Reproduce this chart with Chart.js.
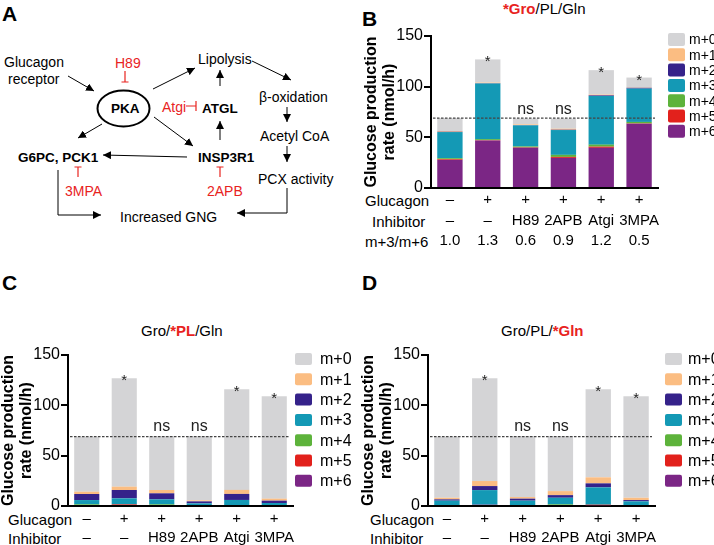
<!DOCTYPE html>
<html>
<head>
<meta charset="utf-8">
<script src="https://cdn.jsdelivr.net/npm/chart.js@4.4.1/dist/chart.umd.min.js"></script>
<style>
  body { margin: 0; width: 714px; height: 545px; position: relative; background: #fff; overflow: hidden;
         font-family: "Liberation Sans", Arial, sans-serif; color: #000; }
  .abs { position: absolute; white-space: nowrap; line-height: 1; }
  .letter { font-weight: bold; font-size: 21px; }
  .ptitle { font-size: 15px; }
  .red { color: #e8231e; font-weight: bold; }
  .rowhead { font-size: 15px; }
  canvas { position: absolute; }
  svg { position: absolute; left: 0; top: 0; }
</style>
</head>
<body>

<!-- panel letters -->
<div class="abs letter" style="left:2px;top:3px">A</div>
<div class="abs letter" style="left:362px;top:8px">B</div>
<div class="abs letter" style="left:2px;top:272px">C</div>
<div class="abs letter" style="left:362px;top:272px">D</div>

<!-- panel titles -->
<div class="abs ptitle" style="left:503px;top:1px"><span class="red">*Gro</span>/PL/Gln</div>
<div class="abs ptitle" style="left:141px;top:323px">Gro/<span class="red">*PL</span>/Gln</div>
<div class="abs ptitle" style="left:501px;top:323px">Gro/PL/<span class="red">*Gln</span></div>

<!-- row headers under the bars -->
<div class="abs rowhead" style="left:365px;top:193px">Glucagon</div>
<div class="abs rowhead" style="left:372px;top:214px">Inhibitor</div>
<div class="abs rowhead" style="left:365px;top:234px">m+3/m+6</div>
<div class="abs rowhead" style="left:8px;top:512px">Glucagon</div>
<div class="abs rowhead" style="left:8px;top:531px">Inhibitor</div>
<div class="abs rowhead" style="left:370px;top:512px">Glucagon</div>
<div class="abs rowhead" style="left:370px;top:531px">Inhibitor</div>

<!-- panel A: pathway sketch -->
<svg width="360" height="260" font-family="Liberation Sans, Arial, sans-serif" font-size="14">
  <defs>
    <marker id="ah" viewBox="0 0 10 10" refX="10" refY="5" markerWidth="8" markerHeight="8"
            markerUnits="userSpaceOnUse" orient="auto">
      <path d="M0,0 L10,5 L0,10 z" fill="#000"/>
    </marker>
  </defs>
  <g stroke="#000" stroke-width="1" fill="none">
    <line x1="68" y1="76" x2="94" y2="91" marker-end="url(#ah)"/>
    <line x1="153" y1="89" x2="195" y2="68" marker-end="url(#ah)"/>
    <line x1="252" y1="61" x2="291" y2="80" marker-end="url(#ah)"/>
    <line x1="287" y1="107" x2="287" y2="122" marker-end="url(#ah)"/>
    <line x1="287" y1="146" x2="287" y2="162" marker-end="url(#ah)"/>
    <polyline points="287,188 287,213 237,213" marker-end="url(#ah)"/>
    <polyline points="58,170 58,215 101,215" marker-end="url(#ah)"/>
    <line x1="187" y1="157" x2="103" y2="155" marker-end="url(#ah)"/>
    <line x1="102" y1="124" x2="78" y2="138" marker-end="url(#ah)"/>
    <line x1="154" y1="117" x2="193" y2="146" marker-end="url(#ah)"/>
    <line x1="220" y1="140" x2="220" y2="121" marker-end="url(#ah)"/>
    <line x1="220" y1="86" x2="220" y2="70" marker-end="url(#ah)"/>
  </g>
  <ellipse cx="123.5" cy="108.5" rx="26" ry="18" fill="none" stroke="#000" stroke-width="2"/>
  <g stroke="#e8231e" stroke-width="1.2" fill="none">
    <path d="M125,71 V82 M121.5,82 H128.5"/>
    <path d="M78,177 V167 M74.5,167 H81.5"/>
    <path d="M220,177 V167 M216.5,167 H223.5"/>
    <path d="M186,106 H196 M196,101 V111"/>
  </g>
  <g fill="#000">
    <text x="4" y="67">Glucagon</text>
    <text x="8" y="84">receptor</text>
    <text x="111" y="113" font-weight="bold" font-size="13.5">PKA</text>
    <text x="198" y="64">Lipolysis</text>
    <text x="259" y="102">β-oxidation</text>
    <text x="260" y="141">Acetyl CoA</text>
    <text x="258" y="184">PCX activity</text>
    <text x="120" y="222">Increased GNG</text>
    <text x="18" y="162" font-weight="bold" font-size="13.5">G6PC, PCK1</text>
    <text x="198" y="162" font-weight="bold" font-size="13.5">INSP3R1</text>
    <text x="202" y="113" font-weight="bold" font-size="13.5">ATGL</text>
  </g>
  <g fill="#e8231e">
    <text x="115" y="68">H89</text>
    <text x="65" y="196">3MPA</text>
    <text x="207" y="196">2APB</text>
    <text x="162" y="112">Atgi</text>
  </g>
</svg>

<canvas id="chartB" width="354" height="260" style="left:360px;top:0px"></canvas>
<canvas id="chartC" width="356" height="255" style="left:0px;top:290px"></canvas>
<canvas id="chartD" width="354" height="255" style="left:360px;top:290px"></canvas>

<script>
// ---- data ----
const isoLabels = ["m+0", "m+1", "m+2", "m+3", "m+4", "m+5", "m+6"];
const isoColors = ["#d4d4d6", "#fbbd82", "#35228a", "#1499b5", "#5db33b", "#e2211c", "#7b2685"];

const glucagonRow = ["–", "+", "+", "+", "+", "+"];
const inhibitorRow = ["–", "–", "H89", "2APB", "Atgi", "3MPA"];
const ratioRow = ["1.0", "1.3", "0.6", "0.9", "1.2", "0.5"];   // m+3/m+6, panel B only
const signifMarks = ["", "*", "ns", "ns", "*", "*"];
const controlRate = 69;   // dashed reference line (nmol/h)
const yTicks = [0, 50, 100, 150];

// rows: m+0 .. m+6, columns: the six conditions
const groTracer = [
  [12.8, 22.9, 5.7, 10.0, 24.1, 9.8],
  [0.7, 0.6, 0.7, 1.0, 0.8, 0.3],
  [0.3, 0.3, 0.3, 0.3, 0.6, 0.8],
  [25.8, 54.9, 20.8, 24.5, 48.0, 32.9],
  [1.0, 0.9, 1.0, 2.0, 2.0, 1.5],
  [0.7, 0.4, 0.4, 1.0, 1.2, 0.3],
  [27.7, 46.9, 39.6, 29.7, 39.6, 63.4]
];
const plTracer = [
  [54.8, 107.8, 53.6, 63.9, 100.0, 101.7],
  [2.3, 3.3, 3.3, 1.0, 4.0, 2.0],
  [6.0, 8.3, 6.0, 2.0, 6.0, 2.3],
  [4.3, 6.0, 5.0, 2.6, 6.0, 3.0],
  [1.6, 0, 1.6, 0, 0, 0],
  [0, 1.6, 0, 0, 0, 0],
  [0, 0, 0, 0, 0, 0]
];
const glnTracer = [
  [60.8, 102.2, 60.6, 54.7, 87.5, 100.8],
  [1.6, 5.0, 1.6, 4.0, 6.0, 2.3],
  [1.3, 4.0, 2.0, 2.6, 4.0, 1.3],
  [5.3, 14.5, 5.3, 6.6, 17.2, 4.6],
  [0, 0, 0, 1.6, 0, 0],
  [0, 0, 0, 0, 0.5, 0],
  [0, 1.3, 0, 0, 0.8, 0]
];

const FONT = "'Liberation Sans', Arial, sans-serif";
Chart.defaults.font.family = FONT;
Chart.defaults.color = "#000";

// dashed line at the control rate
const refLine = {
  id: "refLine",
  afterDatasetsDraw(chart) {
    const { ctx, chartArea, scales } = chart;
    const y = scales.y.getPixelForValue(controlRate);
    ctx.save();
    ctx.strokeStyle = "#444";
    ctx.lineWidth = 1.3;
    ctx.setLineDash([2.5, 1.5]);
    ctx.beginPath();
    ctx.moveTo(chartArea.left + 2, y);
    ctx.lineTo(chartArea.right - 3, y);
    ctx.stroke();
    ctx.restore();
  }
};

// "*" / "ns" above each stack
const sigMarks = {
  id: "sigMarks",
  afterDatasetsDraw(chart) {
    const { ctx, scales } = chart;
    const n = chart.data.labels.length;
    ctx.save();
    ctx.fillStyle = "#222";
    ctx.textAlign = "center";
    ctx.textBaseline = "alphabetic";
    for (let i = 0; i < n; i++) {
      const mark = signifMarks[i];
      if (!mark) continue;
      const total = chart.data.datasets.reduce((a, d) => a + d.data[i], 0);
      const x = scales.x.getPixelForValue(i);
      const y = scales.y.getPixelForValue(total);
      if (mark === "*") {
        ctx.font = "15px " + FONT;
        ctx.fillText(mark, x, y + 7);
      } else {
        ctx.font = "16px " + FONT;
        ctx.fillText(mark, x, y - 5);
      }
    }
    ctx.restore();
  }
};

// legend column, drawn beside the plot
const isoLegend = {
  id: "isoLegend",
  afterDraw(chart, args, opts) {
    const { ctx, chartArea } = chart;
    const items = chart.data.datasets.slice().reverse();
    ctx.save();
    ctx.font = opts.fontSize + "px " + FONT;
    ctx.textBaseline = "middle";
    items.forEach((ds, i) => {
      const x = chartArea.right + opts.offsetX;
      const y = opts.top + i * opts.step;
      ctx.fillStyle = ds.backgroundColor;
      ctx.beginPath();
      ctx.roundRect(x, y, opts.boxW, opts.boxH, 2);
      ctx.fill();
      ctx.fillStyle = "#000";
      ctx.fillText(ds.label, x + opts.boxW + opts.gap, y + opts.boxH / 2 + 1);
    });
    ctx.restore();
  }
};

function makePanel(id, tracer, cfg) {
  const labels = glucagonRow.map((g, i) =>
    cfg.withRatio ? [g, inhibitorRow[i], ratioRow[i]] : [g, inhibitorRow[i]]);
  // m+6 is stacked at the bottom, so datasets go m+6 .. m+0
  const datasets = isoLabels.map((lab, k) => ({
    label: lab,
    data: tracer[k],
    backgroundColor: isoColors[k],
    borderWidth: 0,
    barPercentage: 0.67,
    categoryPercentage: 1.0
  })).reverse();

  return new Chart(document.getElementById(id), {
    type: "bar",
    data: { labels, datasets },
    options: {
      responsive: false,
      animation: false,
      layout: { padding: { top: cfg.top, right: cfg.right, left: 0, bottom: 0 } },
      plugins: {
        legend: { display: false },
        tooltip: { enabled: false },
        isoLegend: cfg.legend
      },
      scales: {
        x: {
          stacked: true,
          grid: { display: false, drawTicks: false },
          border: { color: "#000", width: 2 },
          ticks: {
            autoSkip: false, maxRotation: 0, padding: cfg.tickPad,
            font: { size: 15, lineHeight: cfg.lineH }
          },
          afterFit: s => { s.height = cfg.xHeight; }
        },
        y: {
          stacked: true,
          min: 0, max: 150,
          afterBuildTicks: s => { s.ticks = yTicks.map(v => ({ value: v })); },
          grid: { display: true, drawOnChartArea: false, drawTicks: true, tickLength: 7, color: "#000", lineWidth: 2 },
          border: { color: "#000", width: 2 },
          ticks: { padding: 1, font: { size: 16 } },
          title: {
            display: true,
            text: ["Glucose production", "rate (nmol/h)"],
            font: { size: 16, weight: "bold", lineHeight: 1.125 },
            padding: { top: cfg.titlePad, bottom: 0 }
          },
          afterFit: s => { s.width = cfg.yWidth; }
        }
      }
    },
    plugins: [refLine, sigMarks, isoLegend]
  });
}

makePanel("chartB", groTracer, {
  withRatio: true, top: 36, right: 56, yWidth: 71, xHeight: 72, tickPad: 2, lineH: 20.5 / 15, titlePad: 3,
  legend: { offsetX: 10, top: 33, step: 15.3, boxW: 17, boxH: 13, gap: 4, fontSize: 14 }
});
makePanel("chartC", plTracer, {
  withRatio: false, top: 65, right: 63, yWidth: 68, xHeight: 39, tickPad: 3.5, lineH: 19 / 15, titlePad: 0,
  legend: { offsetX: 2, top: 63, step: 20.3, boxW: 17, boxH: 12, gap: 8, fontSize: 16 }
});
makePanel("chartD", glnTracer, {
  withRatio: false, top: 65, right: 59, yWidth: 68, xHeight: 39, tickPad: 3.5, lineH: 19 / 15, titlePad: 0,
  legend: { offsetX: 10, top: 63, step: 20.3, boxW: 17, boxH: 12, gap: 6, fontSize: 16 }
});
</script>
</body>
</html>
